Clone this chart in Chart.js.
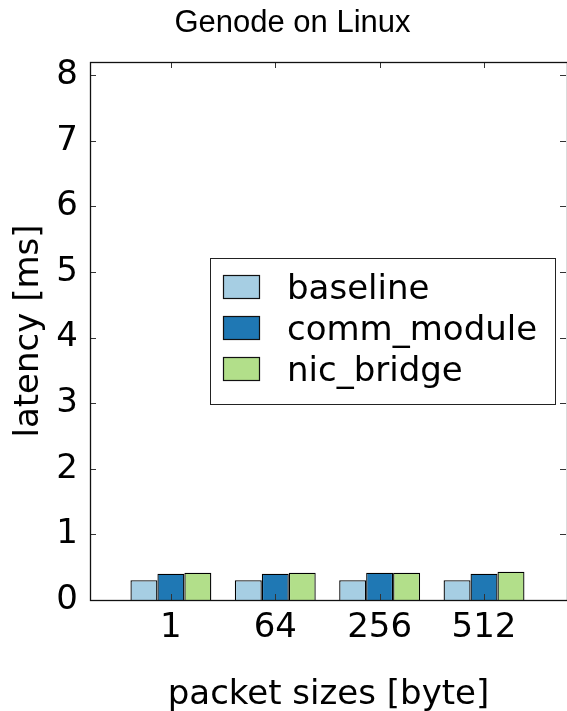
<!DOCTYPE html>
<html lang="en">
<head>
<meta charset="UTF-8">
<title>Genode on Linux</title>
<script src="https://cdn.jsdelivr.net/npm/chart.js@4/dist/chart.umd.min.js"></script>
<style>
  html, body { margin: 0; padding: 0; background: #fff; }
  #wrap { width: 567px; height: 711px; }
</style>
</head>
<body>
<div id="wrap"><canvas id="latChart" width="567" height="711"></canvas></div>
<script>
// Data
const PACKET_SIZES = ['1', '64', '256', '512'];
const BASELINE = [0.30, 0.30, 0.30, 0.30];
const COMM_MODULE = [0.40, 0.40, 0.415, 0.40];
const NIC_BRIDGE = [0.415, 0.415, 0.415, 0.43];
const Y_TICKS = [0, 1, 2, 3, 4, 5, 6, 7, 8];

const SERIES = [
    { label: 'baseline', values: BASELINE, color: '#a6cee3' },
    { label: 'comm_module', values: COMM_MODULE, color: '#1f78b4' },
    { label: 'nic_bridge', values: NIC_BRIDGE, color: '#b2df8a' }
];

Chart.defaults.font.family = '"DejaVu Sans", sans-serif';
Chart.defaults.color = '#000';

// matplotlib-style box with inward ticks, in-plot legend and title
const decorPlugin = {
    id: 'decor',
    afterDatasetsDraw(chart) {
        const { ctx, chartArea: a, scales: { x, y } } = chart;
        const len = 6;
        ctx.save();
        ctx.strokeStyle = '#333';
        ctx.lineWidth = 1;
        ctx.beginPath();
        x.ticks.forEach(t => {
            const px = Math.round(x.getPixelForValue(t.value)) + 0.5;
            ctx.moveTo(px, a.bottom); ctx.lineTo(px, a.bottom - len);
            ctx.moveTo(px, a.top); ctx.lineTo(px, a.top + len);
        });
        y.ticks.forEach(t => {
            const py = Math.round(y.getPixelForValue(t.value)) + 0.5;
            ctx.moveTo(a.left, py); ctx.lineTo(a.left + len, py);
            ctx.moveTo(a.right - 1, py); ctx.lineTo(a.right - 1 - len, py);
        });
        ctx.stroke();

        ctx.strokeStyle = '#111';
        ctx.lineWidth = 1.3;
        ctx.strokeRect(a.left + 0.5, a.top + 0.5, a.right - a.left, a.bottom - a.top);
        ctx.restore();
    },
    afterDraw(chart) {
        const { ctx } = chart;
        ctx.save();
        // title
        ctx.fillStyle = '#000';
        ctx.font = '31px "Liberation Sans", Arial, sans-serif';
        ctx.textAlign = 'center';
        ctx.textBaseline = 'alphabetic';
        ctx.fillText('Genode on Linux', 292.5, 32);

        // legend
        const box = { x: 210.5, y: 258.5, w: 345, h: 146 };
        ctx.fillStyle = '#fff';
        ctx.fillRect(box.x, box.y, box.w, box.h);
        ctx.strokeStyle = '#222';
        ctx.lineWidth = 1;
        ctx.strokeRect(box.x, box.y, box.w, box.h);
        ctx.font = '34px "DejaVu Sans", sans-serif';
        ctx.textAlign = 'left';
        chart.data.datasets.forEach((ds, i) => {
            const top = 275.5 + i * 41;
            ctx.fillStyle = ds.backgroundColor;
            ctx.fillRect(223.5, top, 36, 23);
            ctx.strokeStyle = '#111';
            ctx.lineWidth = 1.2;
            ctx.strokeRect(223.5, top, 36, 23);
            ctx.fillStyle = '#000';
            ctx.fillText(ds.label, 287, top + 23);
        });
        ctx.restore();
    }
};

new Chart(document.getElementById('latChart'), {
    type: 'bar',
    data: {
        datasets: SERIES.map(s => ({
            label: s.label,
            data: s.values.map((v, i) => ({ x: i + 1, y: v })),
            backgroundColor: s.color,
            borderColor: '#000',
            borderWidth: 1.3,
            barPercentage: 1,
            categoryPercentage: 0.775
        }))
    },
    options: {
        responsive: false,
        animation: false,
        layout: { padding: { top: 62, right: 0, left: 0, bottom: 0 } },
        plugins: {
            legend: { display: false },
            title: { display: false },
            tooltip: { enabled: false }
        },
        scales: {
            x: {
                type: 'linear',
                offset: false,
                min: 0.225,
                max: 4.795,
                grid: { display: false, drawTicks: false, offset: false },
                border: { display: false },
                afterBuildTicks: scale => { scale.ticks = PACKET_SIZES.map((_, i) => ({ value: i + 1 })); },
                afterFit: scale => { scale.height = 111; },
                ticks: {
                    font: { size: 34 },
                    padding: 8,
                    maxRotation: 0,
                    callback: (v, i) => PACKET_SIZES[i]
                },
                title: {
                    display: true,
                    text: 'packet sizes [byte]',
                    font: { size: 34 },
                    padding: { top: 0, bottom: -5 }
                }
            },
            y: {
                min: 0,
                max: 8.2,
                grid: { display: false, drawTicks: false },
                border: { display: false },
                afterBuildTicks: scale => { scale.ticks = Y_TICKS.map(v => ({ value: v })); },
                afterFit: scale => { scale.width = 90; },
                ticks: { font: { size: 34 }, padding: 12 },
                title: {
                    display: true,
                    text: 'latency [ms]',
                    font: { size: 34 },
                    padding: { top: 9, bottom: 0 }
                }
            }
        }
    },
    plugins: [decorPlugin]
});
</script>
</body>
</html>
